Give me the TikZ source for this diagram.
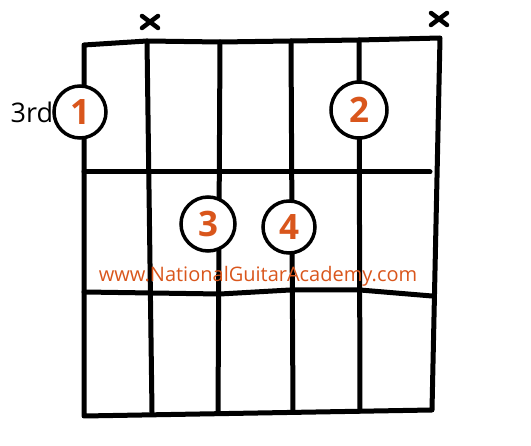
\documentclass[tikz,border=0pt]{standalone}
\usepackage{fontspec}
\setmainfont{Open Sans}
\usetikzlibrary{positioning}

\definecolor{ngaorange}{HTML}{D9561C}

\begin{document}
\begin{tikzpicture}[x=1pt, y=-1pt]
	\tikzset {grid/.style={line width=5pt, line cap=round, line join=round}, finger/.style={circle, draw, line width=3.5pt, fill=white, minimum size=52pt, inner sep=0pt, text=ngaorange, font=\fontsize{35}{35}\selectfont\bfseries}, mute/.style={line width=4.5pt, line cap=round} }
	\useasboundingbox (0,0) rectangle (531,446);

	% frame and frets
	\draw[grid] (84,45) -- (147,41) -- (220,42) -- (291,41) -- (359,40) -- (440,38) -- (432,410) -- (84,416) -- cycle;
	\draw[grid] (84,172) -- (430,172);
	\draw[grid] (84,292) -- (220,294) -- (290,290) -- (360,290) -- (432,296);

	% strings
	\draw[grid] (147,41) -- (152,412);
	\draw[grid] (220,42) -- (218,413);
	\draw[grid] (291,41) -- (293,412);
	\draw[grid] (359,40) -- (360,411);

	% muted strings
	\coordinate (x2) at (150,22);
	\coordinate (x6) at (439,19);
	\foreach \m in {x2, x6} {
		\draw[mute] ([shift={(-8,-6)}]\m) -- ([shift={(8,6)}]\m);
		\draw[mute] ([shift={(-8,6)}]\m) -- ([shift={(8,-6)}]\m);
	}

	% fingers
	\node[finger] (f1) at (80,112) {1};
	\node[finger, minimum size=56pt] (f2) at (359,110) {2};
	\node[finger, minimum size=54pt] (f3) at (208,224) {3};
	\node[finger] (f4) at (289,227) {4};

	\node[left=-1pt of f1, font=\fontsize{27}{27}\selectfont, inner sep=0pt] (fret) {3rd};
	\node[text=ngaorange, font=\fontsize{20}{20}\selectfont] (site) at (258,276) {www.NationalGuitarAcademy.com};
\end{tikzpicture}
\end{document}
